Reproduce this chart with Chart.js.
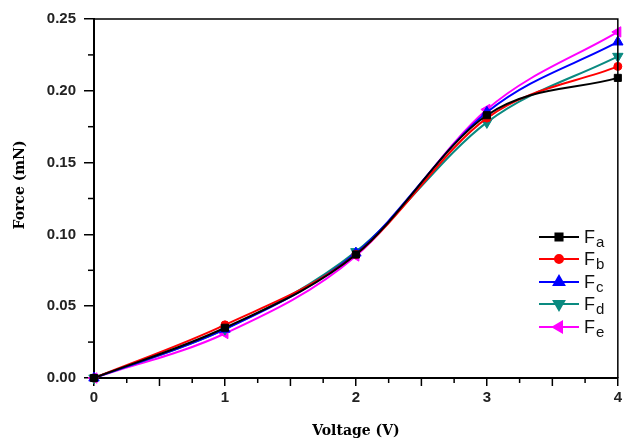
<!DOCTYPE html>
<html>
<head>
<meta charset="utf-8">
<script src="https://cdn.jsdelivr.net/npm/chart.js@4.4.0/dist/chart.umd.min.js"></script>
<style>
html, body { margin: 0; padding: 0; background: #fff; }
#wrap { width: 625px; height: 442px; }
</style>
</head>
<body>
<div id="wrap"><canvas id="forceChart"></canvas></div>
<script>
// values
const voltage = [0, 1, 2, 3, 4];
const forceA = [0, 0.035, 0.086, 0.183, 0.209];
const forceB = [0, 0.037, 0.086, 0.181, 0.217];
const forceC = [0, 0.034, 0.087, 0.185, 0.234];
const forceD = [0, 0.034, 0.088, 0.178, 0.224];
const forceE = [0, 0.031, 0.085, 0.187, 0.241];
const seriesSubs = ['a', 'b', 'c', 'd', 'e'];
const yTicks = [0, 0.05, 0.10, 0.15, 0.20, 0.25];
const xTicks = [0, 1, 2, 3, 4];

const styles = [
    { color: '#000000', point: 'rect', radius: 5, rotation: 0 },
    { color: '#ff0000', point: 'circle', radius: 4, rotation: 0 },
    { color: '#0000ff', point: 'triangle', radius: 6, rotation: 0 },
    { color: '#0a8a80', point: 'triangle', radius: 6, rotation: 180 },
    { color: '#ff00ff', point: 'triangle', radius: 6, rotation: 270 }
];

const allSeries = [forceA, forceB, forceC, forceD, forceE];

function makeDataset(values, i) {
    const s = styles[i];
    return {
        label: 'F' + seriesSubs[i],
        data: voltage.map((v, k) => ({ x: v, y: values[k] })),
        borderColor: s.color,
        backgroundColor: s.color,
        borderWidth: 2,
        pointStyle: s.point,
        pointRadius: s.radius,
        pointRotation: s.rotation,
        pointBorderWidth: 1,
        cubicInterpolationMode: 'monotone',
        clip: false
    };
}

// minor ticks, frame, y title and legend
const extrasPlugin = {
    id: 'extras',
    afterDraw(chart) {
        const ctx = chart.ctx;
        const area = chart.chartArea;
        const xs = chart.scales.x;
        const ys = chart.scales.y;
        ctx.save();
        ctx.strokeStyle = '#000';
        ctx.lineWidth = 1.5;

        // minor ticks on x
        for (let v = 0.25; v < 4; v += 0.25) {
            if (Math.abs(v - Math.round(v)) < 1e-6) continue;
            const px = xs.getPixelForValue(v);
            const len = Math.abs(v * 2 - Math.round(v * 2)) < 1e-6 ? 8 : 5;
            ctx.beginPath();
            ctx.moveTo(px, area.bottom);
            ctx.lineTo(px, area.bottom + len);
            ctx.stroke();
        }
        // minor ticks on y
        for (let v = 0.025; v < 0.25; v += 0.05) {
            const py = ys.getPixelForValue(v);
            ctx.beginPath();
            ctx.moveTo(area.left, py);
            ctx.lineTo(area.left - 6, py);
            ctx.stroke();
        }

        // top and right frame
        ctx.beginPath();
        ctx.moveTo(area.left, area.top);
        ctx.lineTo(area.right, area.top);
        ctx.lineTo(area.right, area.bottom);
        ctx.stroke();

        // y title
        ctx.fillStyle = '#000';
        ctx.font = 'bold 14px "DejaVu Serif"';
        ctx.textAlign = 'center';
        ctx.textBaseline = 'middle';
        ctx.translate(20, 185);
        ctx.rotate(-Math.PI / 2);
        ctx.fillText('Force (mN)', 0, 0);
        ctx.restore();

        // legend
        ctx.save();
        const legendY = [237, 259, 282, 304, 327];
        styles.forEach((s, i) => {
            const y = legendY[i];
            ctx.strokeStyle = s.color;
            ctx.fillStyle = s.color;
            ctx.lineWidth = 2;
            ctx.beginPath();
            ctx.moveTo(539, y);
            ctx.lineTo(579, y);
            ctx.stroke();
            Chart.helpers.drawPoint(ctx, {
                pointStyle: s.point,
                radius: s.radius,
                rotation: s.rotation,
                borderWidth: 1
            }, 559, y);
            ctx.fillStyle = '#111';
            ctx.textAlign = 'left';
            ctx.textBaseline = 'alphabetic';
            ctx.font = '18px "Liberation Sans"';
            ctx.fillText('F', 584, y + 6);
            const fw = ctx.measureText('F').width;
            ctx.font = '15px "Liberation Sans"';
            ctx.fillText(seriesSubs[i], 584 + fw + 1, y + 10);
        });
        ctx.restore();
    }
};

const ctx = document.getElementById('forceChart').getContext('2d');
new Chart(ctx, {
    type: 'line',
    data: { datasets: allSeries.map(makeDataset) },
    options: {
        responsive: true,
        maintainAspectRatio: false,
        animation: false,
        layout: { padding: { top: 19, right: 5, left: 0, bottom: 0 } },
        plugins: {
            legend: { display: false },
            tooltip: { enabled: false }
        },
        scales: {
            x: {
                type: 'linear',
                min: 0,
                max: 4,
                afterBuildTicks: (scale) => { scale.ticks = xTicks.map(v => ({ value: v })); },
                afterFit: (scale) => { scale.height = 64; },
                border: { display: true, color: '#000', width: 2 },
                grid: { display: true, drawOnChartArea: false, drawTicks: true, tickLength: 8, color: '#000', lineWidth: 1.5 },
                ticks: {
                    color: '#222',
                    padding: 3,
                    font: { family: '"Liberation Sans"', size: 15, weight: 'bold' },
                    callback: (v) => String(v)
                },
                title: {
                    display: true,
                    text: 'Voltage (V)',
                    color: '#000',
                    padding: { top: 0, bottom: 2 },
                    font: { family: '"DejaVu Serif"', size: 14, weight: 'bold' }
                }
            },
            y: {
                type: 'linear',
                min: 0,
                max: 0.25,
                afterBuildTicks: (scale) => { scale.ticks = yTicks.map(v => ({ value: v })); },
                afterFit: (scale) => { scale.width = 94; },
                border: { display: true, color: '#000', width: 2 },
                grid: { display: true, drawOnChartArea: false, drawTicks: true, tickLength: 10, color: '#000', lineWidth: 1.5 },
                ticks: {
                    color: '#222',
                    padding: 8,
                    font: { family: '"Liberation Sans"', size: 15, weight: 'bold' },
                    callback: (v) => Number(v).toFixed(2)
                }
            }
        }
    },
    plugins: [extrasPlugin]
});
</script>
</body>
</html>
